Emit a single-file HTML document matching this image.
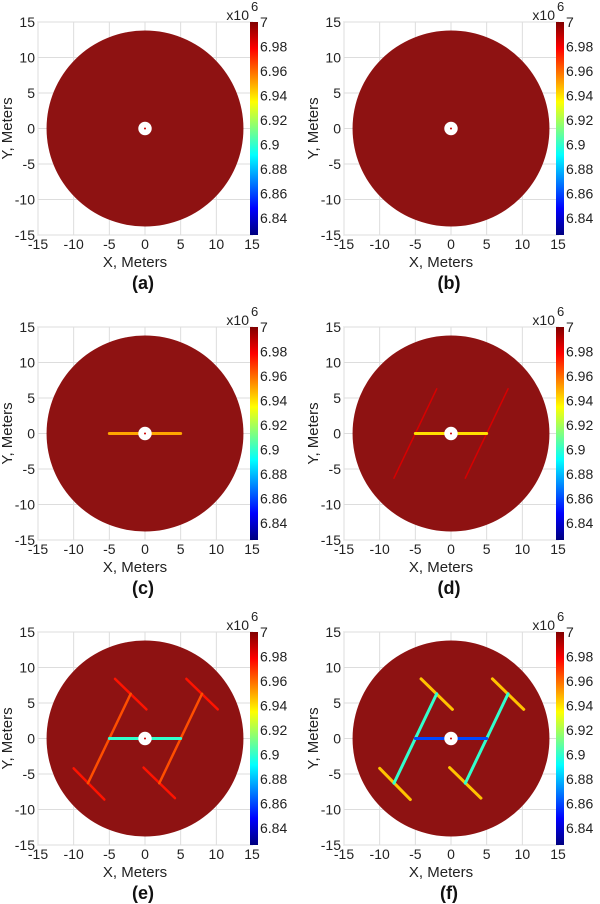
<!DOCTYPE html>
<html><head><meta charset="utf-8">
<style>
html,body{margin:0;padding:0;background:#fff;}
svg{display:block;font-family:"Liberation Sans",sans-serif;}
</style></head>
<body>
<svg id="fig" width="600" height="904" viewBox="0 0 600 904">
<defs>
<linearGradient id="jet" x1="0" y1="1" x2="0" y2="0">
<stop offset="0" stop-color="#00007f"/>
<stop offset="0.125" stop-color="#0000ff"/>
<stop offset="0.375" stop-color="#00ffff"/>
<stop offset="0.625" stop-color="#ffff00"/>
<stop offset="0.875" stop-color="#ff0000"/>
<stop offset="1" stop-color="#800000"/>
</linearGradient>
</defs>
</svg>
<script>
// ---- data ----
const panelLabels = ['(a)','(b)','(c)','(d)','(e)','(f)'];
const axisTicks = [-15,-10,-5,0,5,10,15];
const cbTicks = [7,6.98,6.96,6.94,6.92,6.9,6.88,6.86,6.84];
const cbMin = 6.826, cbMax = 7.0;
const reservoirRadius = 13.8;
const wellRadius = 0.8;
// fracture segments [x1,y1,x2,y2] in meters
const segCenter = [[-5,0,-0.8,0],[0.8,0,5,0]];
const segDiag = [[-5,0,-2,6.3],[-5,0,-8,-6.3],[5,0,8,6.3],[5,0,2,-6.3]];
const segT = [[-4.2,8.4,0.2,4.1],[-10,-4.2,-5.7,-8.6],[5.8,8.4,10.2,4.1],[-0.2,-4.1,4.2,-8.4]];
// pressure values (x10^6) per panel: [center, diagonal, T-bar], null = not visible
const centerVals = [null,null,6.95,6.94,6.90,6.86];
const diagVals = [null,null,null,6.985,6.965,6.90];
const tVals = [null,null,null,null,6.975,6.945];

const NS='http://www.w3.org/2000/svg';
const svg=document.getElementById('fig');
function el(tag,attrs,parent){const e=document.createElementNS(NS,tag);for(const k in attrs)e.setAttribute(k,attrs[k]);(parent||svg).appendChild(e);return e;}
function jet(v){
  let t=(v-cbMin)/(cbMax-cbMin);t=Math.max(0,Math.min(1,t));
  const f=(x)=>Math.max(0,Math.min(1,x));
  const r=f(Math.min(4*t-1.5,-4*t+4.5)),g=f(Math.min(4*t-0.5,-4*t+3.5)),b=f(Math.min(4*t+0.5,-4*t+2.5));
  return `rgb(${Math.round(r*255)},${Math.round(g*255)},${Math.round(b*255)})`;
}
const lefts=[38,344], tops=[22,327,632];
const W=214,H=213;
for(let p=0;p<6;p++){
  const L=lefts[p%2],T=tops[Math.floor(p/2)];
  const sx=v=>L+(v+15)/30*W, sy=v=>T+H-(v+15)/30*H;
  const g=el('g',{});
  
  
  el('rect',{x:L,y:T,width:W,height:H,fill:'#fff',stroke:'#bbb','stroke-width':1},g);
  axisTicks.forEach(t=>{
    el('line',{x1:sx(t),x2:sx(t),y1:T,y2:T+H,stroke:'#ddd','stroke-width':1},g);
    el('line',{x1:L,x2:L+W,y1:sy(t),y2:sy(t),stroke:'#ddd','stroke-width':1},g);
    const xt=el('text',{x:sx(t),y:T+H+14,'font-size':14,'text-anchor':'middle',fill:'#222'},g);xt.textContent=t;
    
    
    const yt=el('text',{x:L-3,y:sy(t)+5,'font-size':14,'text-anchor':'end',fill:'#222'},g);yt.textContent=t;
    
    
  });
  const disk=el('ellipse',{cx:sx(0),cy:sy(0),rx:reservoirRadius/30*W,ry:reservoirRadius/30*H,fill:'#8e1212'},g);
  
  
  const drawSegs=(segs,val,w,name)=>{ if(val==null)return; segs.forEach(s=>{
    const ln=el('line',{x1:sx(s[0]),y1:sy(s[1]),x2:sx(s[2]),y2:sy(s[3]),stroke:jet(val),'stroke-width':w,'stroke-linecap':'round'},g);
    
    
  });};
  drawSegs(segT,tVals[p],p===5?3:2.5,'fracture-wing');
  drawSegs(segDiag,diagVals[p],p===3?1.5:(p===5?3:2.5),'fracture-diagonal');
  drawSegs(segCenter,centerVals[p],3,'fracture-center');
  const well=el('circle',{cx:sx(0),cy:sy(0),r:wellRadius/30*W+1,fill:'#fff'},g);
  
  
  el('circle',{cx:sx(0),cy:sy(0),r:1,fill:'#c00'},g);
  // colorbar
  const cbx=L+W-2;
  const cb=el('rect',{x:cbx,y:T,width:8,height:H,fill:'url(#jet)'},g);
  
  
  const cy=v=>T+H-(v-cbMin)/(cbMax-cbMin)*H;
  cbTicks.forEach(v=>{
    const t=el('text',{x:cbx+10,y:cy(v)+5,'font-size':14,fill:'#222'},g);t.textContent=v;
    
    
  });
  const sc=el('text',{x:cbx-1,y:T-2,'font-size':14,'text-anchor':'end',fill:'#222'},g);sc.textContent='x10';
  
  
  const se=el('text',{x:cbx+1,y:T-11,'font-size':13,fill:'#222'},g);se.textContent='6';
  
  
  const xl=el('text',{x:L+W/2-10,y:T+H+32,'font-size':15,'text-anchor':'middle',fill:'#222'},g);xl.textContent='X, Meters';
  
  
  const yl=el('text',{x:0,y:0,'font-size':15,'text-anchor':'middle',fill:'#222',transform:`translate(${L-26},${T+H/2}) rotate(-90)`},g);yl.textContent='Y, Meters';
  
  
  const pl=el('text',{x:L+W/2-2,y:T+H+54,'font-size':18,'font-weight':'bold','text-anchor':'middle',fill:'#111'},g);pl.textContent=panelLabels[p];
  
  
}
</script>
</body></html>
